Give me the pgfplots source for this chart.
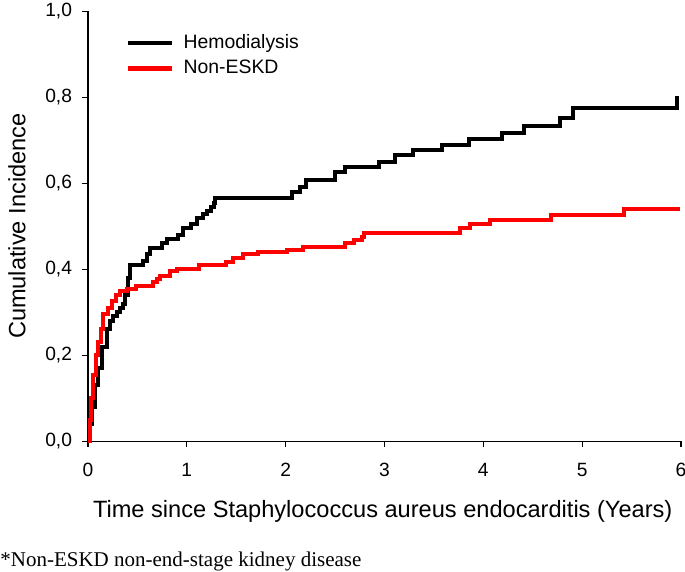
\documentclass[border=0pt]{standalone}
\usepackage{pgfplots}
\pgfplotsset{compat=1.18}
\usepackage{fontspec}
\setmainfont{Liberation Sans}
\newfontfamily\timesfont{Liberation Serif}

\pgfplotstableread{
x y
0 0
0.02 0.04
0.04 0.08
0.07 0.13
0.10 0.17
0.14 0.22
0.19 0.26
0.22 0.28
0.255 0.29
0.29 0.30
0.32 0.31
0.35 0.32
0.375 0.34
0.40 0.38
0.425 0.41
0.56 0.42
0.60 0.435
0.63 0.45
0.75 0.46
0.80 0.47
0.91 0.48
0.96 0.495
1.04 0.505
1.10 0.52
1.16 0.528
1.20 0.535
1.24 0.545
1.27 0.555
1.28 0.565
2.06 0.579
2.15 0.59
2.21 0.607
2.50 0.625
2.60 0.638
2.94 0.65
3.11 0.665
3.29 0.677
3.58 0.689
3.85 0.703
4.19 0.716
4.41 0.733
4.78 0.751
4.91 0.774
5.96 0.797
5.98 0.797
}\hemo

\pgfplotstableread{
x y
0 0
0.02 0.05
0.035 0.10
0.054 0.155
0.08 0.20
0.10 0.23
0.13 0.26
0.155 0.295
0.20 0.31
0.24 0.325
0.28 0.34
0.32 0.35
0.39 0.355
0.49 0.36
0.66 0.37
0.70 0.378
0.73 0.385
0.83 0.395
0.90 0.40
1.12 0.41
1.40 0.417
1.47 0.425
1.57 0.435
1.72 0.44
2.01 0.445
2.18 0.452
2.60 0.46
2.69 0.467
2.77 0.475
2.79 0.483
3.76 0.495
3.87 0.504
4.07 0.514
4.68 0.526
5.42 0.539
5.99 0.539
}\noneskd

\begin{document}
\begin{tikzpicture}
\begin{axis}[
  scale only axis,
  width=296.5pt, height=215pt,
  xmin=0, xmax=6, ymin=0, ymax=1,
  axis lines=left,
  axis line style={-, line width=0.6pt},
  tick style={line width=0.6pt, black},
  tick align=outside,
  major tick length=2.8pt,
  xtick={0,1,2,3,4,5,6},
  ytick={0,0.2,0.4,0.6,0.8,1.0},
  /pgf/number format/assume math mode=true,
  ticklabel style={font=\fontsize{9.6}{11}\selectfont},
  xticklabel style={inner sep=0pt, yshift=-8pt},
  yticklabel style={inner sep=0pt, xshift=-5pt,
    /pgf/number format/.cd, fixed, fixed zerofill, precision=1, use comma},
  xlabel={Time since Staphylococcus aureus endocarditis (Years)},
  ylabel={Cumulative Incidence},
  label style={font=\fontsize{11.8}{14}\selectfont},
  xlabel style={at={(rel axis cs:0.497,-0.1767)}, anchor=base},
  ylabel style={at={(rel axis cs:-0.1197,0.50)}, anchor=center},
  legend style={draw=none, fill=none, inner sep=0pt,
    font=\fontsize{9.7}{11}\selectfont,
    at={(rel axis cs:0.0624,0.952)}, anchor=north west,
    row sep=2.5pt, nodes={inner sep=1pt}},
  legend cell align=left,
  legend image code/.code={\draw[#1, line width=2.1pt] (0pt,0pt) -- (22pt,0pt);},
  clip=false,
]
\addplot[const plot, black, line width=2pt] table[x=x,y=y] {\hemo};
\addlegendentry{\hspace{4pt}Hemodialysis}
\addplot[const plot, red, line width=2pt] table[x=x,y=y] {\noneskd};
\addlegendentry{\hspace{4pt}Non-ESKD}
\node[anchor=base west, inner sep=0pt, font=\timesfont\fontsize{10.5}{12}\selectfont]
  at (rel axis cs:-0.1484,-0.2907) {*Non-ESKD non-end-stage kidney disease};
\coordinate (bbsw) at (rel axis cs:-0.1484,-0.3023);
\coordinate (bbne) at (rel axis cs:1.00675,1.026);
\end{axis}
\pgfresetboundingbox
\path (bbsw) rectangle (bbne);
\end{tikzpicture}
\end{document}
